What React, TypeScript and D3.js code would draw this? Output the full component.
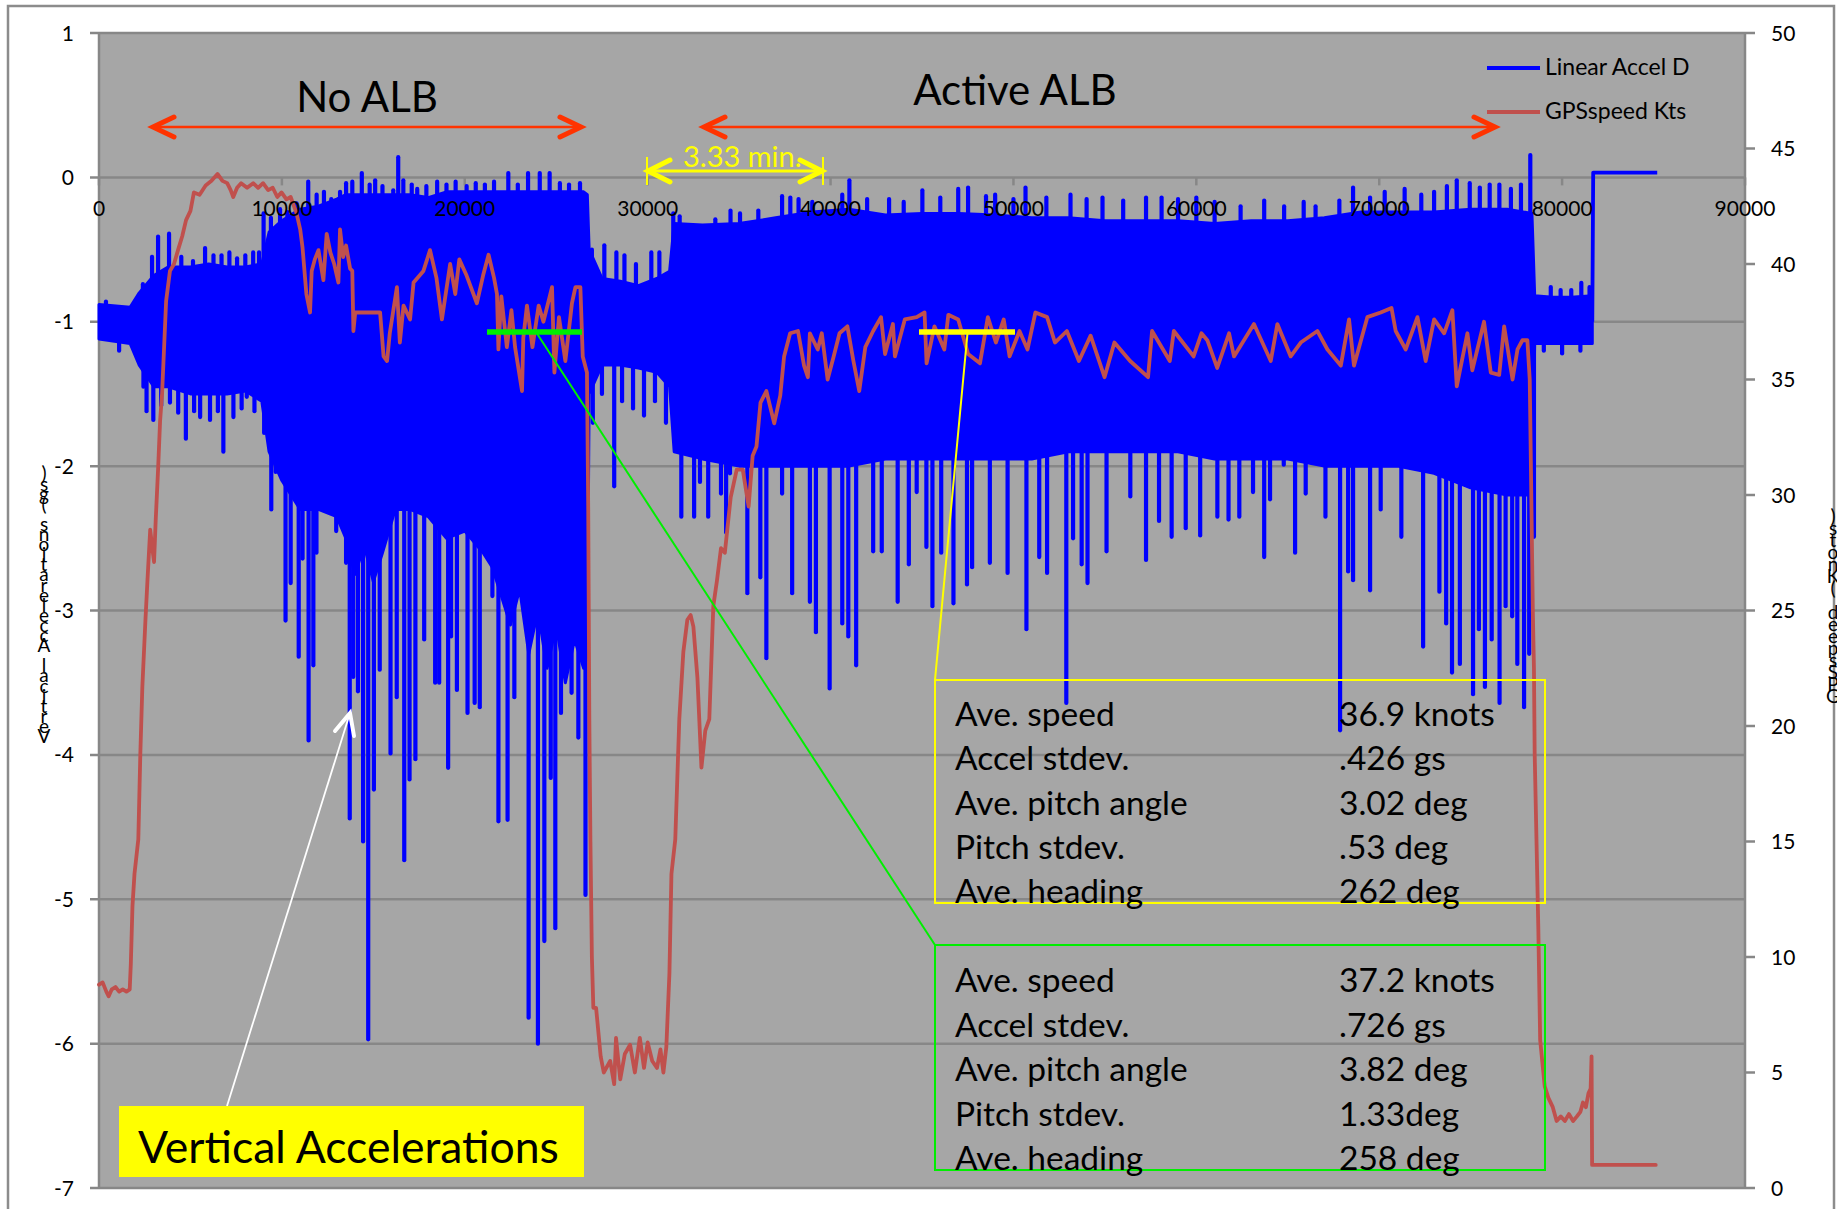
import React from "react";
import * as d3 from "d3";

// ---------- axis ticks ----------
const sampleTicks = [0, 10000, 20000, 30000, 40000, 50000, 60000, 70000, 80000, 90000];
const accelTicks = [1, 0, -1, -2, -3, -4, -5, -6, -7];
const speedTicks = [50, 45, 40, 35, 30, 25, 20, 15, 10, 5, 0];

// ---------- Linear Accel D (gs): dense band envelope ----------
const accelBandSamples = [0, 1700, 2200, 3000, 3800, 5000, 6000, 7000, 8000, 8900, 9300, 10000, 11000, 12000, 13000, 13500, 14000, 14500, 15000, 15500, 16200, 17000, 18000, 19000, 20000, 21000, 21500, 22000, 22500, 23000, 23500, 24000, 24500, 25000, 25500, 26000, 26500, 26700, 26800, 27500, 28500, 29500, 30500, 31200, 31450, 33000, 35000, 37000, 39000, 41000, 43000, 45000, 47000, 49000, 51000, 53000, 55000, 57000, 59000, 61000, 63000, 65000, 67000, 69000, 71000, 73000, 75000, 77000, 78350, 78500, 79500, 80500, 81650];
const accelBandTop = [-0.88, -0.9, -0.8, -0.68, -0.62, -0.62, -0.6, -0.62, -0.62, -0.6, -0.38, -0.3, -0.22, -0.2, -0.15, -0.12, -0.12, -0.12, -0.12, -0.12, -0.12, -0.12, -0.14, -0.1, -0.1, -0.1, -0.1, -0.1, -0.1, -0.1, -0.1, -0.1, -0.1, -0.1, -0.1, -0.1, -0.1, -0.12, -0.5, -0.7, -0.72, -0.75, -0.7, -0.65, -0.32, -0.33, -0.32, -0.28, -0.24, -0.22, -0.26, -0.25, -0.25, -0.26, -0.28, -0.28, -0.3, -0.3, -0.3, -0.32, -0.3, -0.3, -0.28, -0.24, -0.24, -0.24, -0.22, -0.22, -0.25, -0.82, -0.83, -0.83, -0.82];
const accelBandBottom = [-1.12, -1.15, -1.3, -1.45, -1.45, -1.5, -1.5, -1.5, -1.48, -1.55, -1.9, -2.1, -2.3, -2.3, -2.35, -2.5, -2.75, -2.55, -2.8, -2.6, -2.3, -2.3, -2.35, -2.5, -2.45, -2.6, -2.7, -2.9, -3.1, -2.85, -3.3, -3.0, -3.4, -3.1, -3.5, -3.2, -3.4, -3.3, -1.5, -1.3, -1.3, -1.32, -1.35, -1.45, -1.9, -1.95, -2.0, -2.0, -2.0, -2.0, -1.95, -1.95, -1.95, -1.95, -1.95, -1.9, -1.9, -1.9, -1.9, -1.95, -1.95, -1.95, -2.0, -2.0, -2.0, -2.05, -2.15, -2.2, -2.2, -1.15, -1.15, -1.15, -1.15];

// upward spikes [sample, gs]
const accelPeaks: [number, number][] = [
  [380, -0.86], [2400, -0.74], [2900, -0.55], [3230, -0.41], [3830, -0.39], [4500, -0.55], [5140, -0.58], [5800, -0.49],
  [6260, -0.54], [6700, -0.54], [7130, -0.52], [7550, -0.56], [8000, -0.54], [8430, -0.52], [8750, -0.52], [9000, -0.25],
  [9400, -0.28], [9900, -0.22], [10300, -0.24], [10800, -0.18], [11440, -0.03], [11900, -0.12], [12300, -0.1], [12700, -0.15],
  [13180, -0.1], [13510, -0.04], [13850, -0.03], [14370, 0.03], [14800, -0.05], [15100, -0.02], [15500, -0.06], [16090, -0.09],
  [16360, 0.14], [16640, -0.02], [17100, -0.05], [17400, -0.08], [17900, -0.06], [18490, -0.03], [19000, -0.05], [19500, -0.03],
  [20100, -0.06], [20600, -0.04], [21100, -0.05], [21600, -0.03], [22380, 0.03], [22900, -0.05], [23460, 0.03], [24100, 0.03],
  [24640, 0.03], [25200, -0.04], [25700, -0.05], [26300, -0.04], [26950, -0.5], [27630, -0.47], [28290, -0.52], [28730, -0.54],
  [29360, -0.6], [30200, -0.52], [30640, -0.52], [31400, -0.25], [31750, -0.27], [32900, -0.36], [33700, -0.29], [34530, -0.23],
  [35050, -0.25], [36050, -0.23], [37350, -0.13], [37800, -0.14], [38250, -0.15], [39000, -0.17], [40640, -0.12], [41030, -0.02],
  [42000, -0.15], [43200, -0.15], [44000, -0.17], [45020, -0.09], [46000, -0.14], [46980, -0.08], [47520, -0.07], [48500, -0.13],
  [49000, -0.12], [50000, -0.15], [50660, -0.07], [51800, -0.14], [53120, -0.12], [54000, -0.15], [54870, -0.14], [56000, -0.16],
  [57250, -0.14], [58100, -0.14], [59000, -0.15], [60000, -0.14], [61000, -0.17], [62420, -0.2], [63710, -0.16], [64800, -0.2],
  [65870, -0.17], [66520, -0.2], [67820, -0.16], [68570, -0.07], [69500, -0.14], [70300, -0.1], [71390, -0.08], [72300, -0.12],
  [73000, -0.1], [73700, -0.06], [74240, -0.02], [74950, -0.04], [75500, -0.07], [76040, -0.05], [76570, -0.05], [77200, -0.08],
  [77750, -0.05], [78260, 0.155], [79380, -0.76], [79920, -0.78], [80500, -0.78], [81050, -0.73], [81500, -0.76],
];

// downward spikes [sample, gs]
const accelDips: [number, number][] = [
  [1100, -1.2], [2430, -1.45], [2600, -1.62], [2970, -1.68], [3400, -1.58], [3880, -1.56], [4330, -1.63], [4750, -1.81],
  [5200, -1.62], [5530, -1.66], [6070, -1.68], [6500, -1.62], [6800, -1.9], [7350, -1.66], [7800, -1.6], [8080, -1.52],
  [8500, -1.62], [9030, -1.77], [9420, -2.3], [9660, -2.04], [10200, -3.07], [10480, -2.81], [10920, -3.32], [11130, -2.64],
  [11460, -3.9], [11720, -3.38], [11890, -2.6], [12540, -2.3], [12970, -2.45], [13510, -2.67], [13710, -4.44], [13900, -3.46],
  [14160, -3.56], [14440, -4.6], [14720, -5.97], [15030, -4.24], [15350, -3.41], [15940, -3.99], [16280, -3.6], [16690, -4.73],
  [16980, -4.17], [17300, -4.03], [17780, -3.2], [18380, -3.5], [18600, -3.5], [19090, -4.09], [19250, -3.18], [19570, -3.55],
  [20150, -3.71], [20540, -3.64], [20820, -3.67], [21510, -2.9], [21840, -4.46], [22340, -4.45], [22710, -3.6], [23490, -5.82],
  [24000, -6.0], [24350, -5.29], [24700, -4.16], [24950, -5.2], [25260, -3.71], [25840, -3.57], [26210, -3.88], [26600, -4.97],
  [27000, -1.7], [27500, -1.5], [28170, -2.14], [28600, -1.55], [29200, -1.6], [29800, -1.65], [30400, -1.55], [31000, -1.7],
  [31840, -2.35], [32540, -2.35], [32860, -2.11], [33310, -2.35], [34010, -2.19], [34290, -2.46], [34500, -2.05], [35450, -2.88],
  [36160, -2.77], [36490, -3.33], [37350, -2.19], [37900, -2.88], [38870, -2.94], [39200, -3.15], [39950, -3.54], [40640, -3.09],
  [40970, -3.18], [41400, -3.38], [42330, -2.59], [42800, -2.59], [43670, -2.94], [44280, -2.68], [44710, -2.18], [45240, -2.56],
  [45570, -2.97], [46050, -2.6], [46720, -2.95], [47460, -2.82], [47740, -2.7], [48710, -2.67], [49680, -2.74], [50710, -3.13],
  [51410, -2.63], [51840, -2.74], [52890, -3.64], [53260, -2.5], [53730, -2.68], [54050, -2.81], [55090, -2.59], [56390, -2.21],
  [57250, -2.65], [57960, -2.38], [58650, -2.49], [59420, -2.43], [60210, -2.48], [61150, -2.35], [61760, -2.37], [62350, -2.35],
  [63100, -2.18], [63710, -2.63], [64030, -2.23], [64780, -1.99], [65400, -2.6], [65980, -2.19], [67060, -2.35], [67860, -3.83],
  [68300, -2.73], [68570, -2.79], [69500, -2.86], [70080, -2.3], [71210, -2.49], [72400, -3.25], [73290, -2.87], [73660, -3.09],
  [73980, -3.43], [74410, -3.37], [75130, -3.58], [75450, -3.13], [75780, -3.53], [76150, -3.2], [76580, -3.64], [76910, -2.97],
  [77270, -3.04], [77550, -3.37], [77920, -3.67], [78200, -3.3], [78460, -2.49], [79000, -1.2], [80000, -1.22], [81000, -1.2],
];

// final segment of the accel trace after the run
const accelTail: [number, number][] = [[81650, -1.0], [81700, 0.033], [85200, 0.033]];

// ---------- GPSspeed Kts ----------
const gpsSpeed: [number, number][] = [
  [0, 8.8], [200, 8.9], [400, 8.5], [530, 8.3], [700, 8.6], [900, 8.7], [1100, 8.5], [1300, 8.6], [1500, 8.5], [1680, 8.6],
  [1740, 9.7], [1830, 12.2], [1940, 13.6], [2150, 15.1], [2260, 18.8], [2370, 21.7], [2540, 24.6], [2650, 26.3], [2800, 28.5],
  [2900, 27.8], [3010, 27.1], [3100, 28.9], [3230, 31.1], [3340, 33.2], [3450, 34.4], [3670, 38.4], [3880, 39.7], [4100, 40.0],
  [4320, 40.6], [4550, 41.2], [4760, 41.9], [5000, 42.3], [5190, 43.1], [5500, 43.0], [5830, 43.4], [6150, 43.6], [6480, 43.9],
  [6750, 43.6], [7010, 43.5], [7200, 43.2], [7340, 42.9], [7550, 43.3], [7770, 43.5], [8100, 43.3], [8430, 43.5], [8700, 43.3],
  [8970, 43.5], [9250, 43.2], [9500, 43.3], [9750, 42.9], [9980, 43.1], [10250, 42.8], [10480, 42.9], [10800, 42.2],
  [11000, 41.5], [11130, 40.7], [11340, 38.7], [11540, 37.9], [11630, 39.7], [11800, 40.2], [12000, 40.6], [12270, 39.3],
  [12450, 41.3], [12650, 40.5], [12860, 40.0], [13090, 39.2], [13180, 41.5], [13350, 40.3], [13510, 40.8], [13730, 39.8],
  [13850, 39.7], [13910, 37.1], [14010, 37.9], [15370, 37.9], [15560, 36.0], [15750, 35.8], [15900, 37.0], [16290, 39.0],
  [16450, 36.6], [16650, 38.2], [17010, 37.6], [17200, 39.2], [17740, 39.7], [18100, 40.6], [18450, 39.4], [18750, 37.6],
  [19200, 40.0], [19480, 38.7], [19700, 40.2], [20100, 39.5], [20660, 38.3], [21000, 39.5], [21300, 40.4], [21600, 39.4],
  [21760, 38.7], [21840, 36.3], [22000, 38.6], [22300, 36.4], [22550, 38.0], [22750, 36.4], [23130, 34.5], [23200, 36.8],
  [23400, 38.2], [23700, 36.4], [24040, 38.2], [24300, 37.5], [24770, 39.0], [24900, 35.3], [25150, 37.7], [25500, 35.8],
  [25860, 38.3], [26050, 39.0], [26320, 39.0], [26450, 36.0], [26680, 35.3], [26750, 29.4], [26810, 20.3], [26870, 15.0],
  [26950, 10.0], [27030, 7.8], [27180, 7.8], [27430, 5.7], [27600, 5.0], [27950, 5.5], [28170, 4.5], [28270, 6.5], [28500, 4.7],
  [28750, 5.8], [29040, 6.2], [29300, 5.0], [29570, 6.5], [29800, 5.2], [30000, 6.3], [30250, 5.5], [30510, 5.2], [30700, 6.0],
  [30860, 5.0], [31020, 6.1], [31190, 9.3], [31300, 13.6], [31510, 15.1], [31730, 20.3], [31950, 23.2], [32170, 24.6],
  [32350, 24.8], [32500, 24.3], [32720, 22.1], [32940, 18.2], [33150, 19.8], [33370, 20.3], [33590, 25.2], [33790, 26.3],
  [34010, 27.7], [34220, 27.5], [34540, 29.9], [34870, 31.1], [35200, 31.1], [35520, 29.5], [35740, 31.7], [35950, 32.1],
  [36170, 34.0], [36490, 34.5], [36920, 33.1], [37250, 34.3], [37460, 36.0], [37790, 37.0], [38220, 37.1], [38550, 35.6],
  [38760, 35.1], [38870, 37.0], [39300, 36.3], [39520, 37.0], [39840, 35.0], [40170, 36.0], [40490, 37.0], [40920, 37.3],
  [41250, 35.8], [41570, 34.5], [41900, 36.4], [42330, 37.1], [42760, 37.7], [42980, 36.1], [43410, 37.4], [43520, 36.0],
  [44060, 37.6], [44710, 37.7], [45140, 37.9], [45250, 35.7], [45680, 37.3], [46220, 36.3], [46440, 37.8], [46980, 37.6],
  [47520, 36.1], [48170, 35.7], [48600, 37.7], [49040, 36.6], [49470, 37.6], [49790, 36.0], [50330, 37.1], [50770, 36.3],
  [51200, 37.9], [51840, 37.7], [52270, 36.6], [52920, 37.1], [53580, 35.8], [54220, 36.9], [54980, 35.1], [55520, 36.6],
  [56380, 35.8], [57360, 35.1], [57580, 37.1], [58550, 35.8], [58770, 37.1], [59850, 36.0], [60280, 37.0], [60600, 36.7],
  [61140, 35.5], [61790, 37.0], [62060, 36.0], [63150, 37.4], [64070, 35.8], [64430, 37.4], [65160, 36.0], [65710, 36.6],
  [66620, 37.1], [67170, 36.3], [67900, 35.6], [68350, 37.6], [68620, 35.6], [69350, 37.7], [70080, 37.9], [70670, 38.1],
  [70900, 37.1], [71450, 36.3], [72090, 37.7], [72540, 35.8], [73000, 37.6], [73550, 37.0], [74000, 38.0], [74240, 34.7],
  [74820, 37.0], [75090, 35.4], [75730, 37.5], [76100, 35.3], [76560, 35.2], [76830, 37.3], [77290, 35.0], [77560, 36.3],
  [77830, 36.7], [78100, 36.7], [78230, 35.0], [78290, 31.5], [78400, 24.9], [78460, 22.5], [78500, 18.8], [78600, 15.0],
  [78700, 11.2], [78800, 6.4], [79050, 4.4], [79250, 3.9], [79490, 3.5], [79700, 2.9], [79930, 3.1], [80150, 2.9], [80370, 3.2],
  [80600, 2.9], [80810, 3.1], [81000, 3.3], [81140, 3.7], [81300, 3.5], [81440, 4.1], [81560, 4.3], [81610, 5.7], [81640, 1.0],
  [85120, 1.0],
];

// ---------- annotation text ----------
const statLabels = ["Ave. speed", "Accel stdev.", "Ave. pitch angle", "Pitch stdev.", "Ave. heading"];
const activeStats = ["36.9 knots", ".426 gs", "3.02 deg", ".53 deg", "262 deg"];
const noAlbStats = ["37.2 knots", ".726 gs", "3.82 deg", "1.33deg", "258 deg"];
const leftTitle = "Vertical Accelerations (gs)";
const rightTitle = "GPSspeed (Knots)";

const FONT = "Lato, 'Open Sans', sans-serif";
const BLUE = "#0000ff";
const RED = "#c0504d";
const GRID = "#878787";
const ORANGE = "#ff3300";

export default function App() {
  const x = d3.scaleLinear().domain([0, 90000]).range([99, 1745]);
  const yA = d3.scaleLinear().domain([-7, 1]).range([1188, 33]);
  const yS = d3.scaleLinear().domain([0, 50]).range([1188, 33]);

  const band = accelBandSamples.map((s, i) => ({ s, top: accelBandTop[i], bot: accelBandBottom[i] }));
  const bandArea = d3
    .area<{ s: number; top: number; bot: number }>()
    .x((d) => x(d.s))
    .y0((d) => yA(d.bot))
    .y1((d) => yA(d.top));
  const accelLine = d3.line<[number, number]>().x((d) => x(d[0])).y((d) => yA(d[1]));
  const speedLine = d3.line<[number, number]>().x((d) => x(d[0])).y((d) => yS(d[1]));

  const chevron = (tx: number, ty: number, dir: number, len: number, half: number) =>
    `M${tx + dir * len},${ty - half} L${tx},${ty} L${tx + dir * len},${ty + half}`;

  return (
    <svg width={1837} height={1209} style={{ position: "absolute", left: 0, top: 0 }} fontFamily={FONT}>
      <rect x={0} y={0} width={1837} height={1209} fill="#ffffff" />
      <rect x={8} y={6} width={1826} height={1220} fill="#ffffff" stroke="#8c8c8c" strokeWidth={2.5} />
      {/* plot area */}
      <rect x={x(0)} y={yA(1)} width={x(90000) - x(0)} height={yA(-7) - yA(1)} fill="#a6a6a6" />
      {accelTicks.map((t) => (
        <line key={"g" + t} x1={90} x2={x(90000)} y1={yA(t)} y2={yA(t)} stroke={GRID} strokeWidth={2.5} />
      ))}
      <line x1={x(0)} x2={x(0)} y1={yA(1)} y2={yA(-7)} stroke={GRID} strokeWidth={2.5} />
      <line x1={x(90000)} x2={x(90000)} y1={yA(1)} y2={yA(-7)} stroke={GRID} strokeWidth={2.5} />
      {speedTicks.map((t) => (
        <line key={"rt" + t} x1={x(90000)} x2={x(90000) + 10} y1={yS(t)} y2={yS(t)} stroke={GRID} strokeWidth={2.5} />
      ))}
      {sampleTicks.map((t) => (
        <line key={"xt" + t} x1={x(t)} x2={x(t)} y1={yA(0)} y2={yA(0) + 8} stroke={GRID} strokeWidth={2.5} />
      ))}

      {/* accel series */}
      <path d={bandArea(band) ?? ""} fill={BLUE} stroke={BLUE} strokeWidth={3} strokeLinejoin="round" />
      {accelDips.map(([s, v], i) => (
        <line key={"d" + i} x1={x(s)} x2={x(s)} y1={yA(-1)} y2={yA(v)} stroke={BLUE} strokeWidth={4.2} strokeLinecap="round" />
      ))}
      {accelPeaks.map(([s, v], i) => (
        <line key={"p" + i} x1={x(s)} x2={x(s)} y1={yA(-1)} y2={yA(v)} stroke={BLUE} strokeWidth={4.2} strokeLinecap="round" />
      ))}
      <path d={accelLine(accelTail) ?? ""} fill="none" stroke={BLUE} strokeWidth={3.8} strokeLinejoin="round" />

      {/* speed series */}
      <path d={speedLine(gpsSpeed) ?? ""} fill="none" stroke={RED} strokeWidth={3.8} strokeLinejoin="round" strokeLinecap="round" />

      {/* tick labels */}
      {accelTicks.map((t) => (
        <text key={"yl" + t} x={74} y={yA(t)} dy="0.36em" fontSize={21} textAnchor="end" fill="#000">
          {t}
        </text>
      ))}
      {speedTicks.map((t) => (
        <text key={"sl" + t} x={1771} y={yS(t)} dy="0.36em" fontSize={21} textAnchor="start" fill="#000">
          {t}
        </text>
      ))}
      {sampleTicks.map((t) => (
        <text key={"xl" + t} x={x(t)} y={216} fontSize={21} textAnchor="middle" fill="#000">
          {t}
        </text>
      ))}

      {/* stacked axis titles */}
      {leftTitle.split("").map((c, i) => (
        <text key={"lt" + i} x={44} y={743 - i * 10.1} fontSize={19} textAnchor="middle" fill="#000">
          {c}
        </text>
      ))}
      {rightTitle.split("").map((c, i) => (
        <text key={"rtt" + i} x={1833} y={703 - i * 12} fontSize={19} textAnchor="middle" fill="#000">
          {c}
        </text>
      ))}

      {/* legend */}
      <line x1={1487} x2={1540} y1={68} y2={68} stroke={BLUE} strokeWidth={4} />
      <text x={1545} y={75} fontSize={23} fill="#000">Linear Accel D</text>
      <line x1={1487} x2={1540} y1={112} y2={112} stroke={RED} strokeWidth={4} />
      <text x={1545} y={119} fontSize={23} fill="#000">GPSspeed Kts</text>

      {/* No ALB / Active ALB */}
      <text x={367} y={112} fontSize={42} textAnchor="middle" fill="#000">No ALB</text>
      <line x1={153} x2={581} y1={127} y2={127} stroke={ORANGE} strokeWidth={2.5} />
      <path d={chevron(153, 127, 1, 21, 10)} fill="none" stroke={ORANGE} strokeWidth={5} strokeLinecap="round" strokeLinejoin="miter" />
      <path d={chevron(581, 127, -1, 21, 10)} fill="none" stroke={ORANGE} strokeWidth={5} strokeLinecap="round" strokeLinejoin="miter" />
      <text x={1015} y={105} fontSize={42} textAnchor="middle" fill="#000">Active ALB</text>
      <line x1={704} x2={1495} y1={127} y2={127} stroke={ORANGE} strokeWidth={2.5} />
      <path d={chevron(704, 127, 1, 21, 10)} fill="none" stroke={ORANGE} strokeWidth={5} strokeLinecap="round" />
      <path d={chevron(1495, 127, -1, 21, 10)} fill="none" stroke={ORANGE} strokeWidth={5} strokeLinecap="round" />

      {/* 3.33 min */}
      <text x={683} y={167} fontSize={29} fill="#ffff00">3.33 min.</text>
      <line x1={647} x2={823} y1={171} y2={171} stroke="#ffff00" strokeWidth={3} />
      <line x1={647} x2={647} y1={157} y2={185} stroke="#ffff00" strokeWidth={2} />
      <line x1={823} x2={823} y1={157} y2={185} stroke="#ffff00" strokeWidth={2} />
      <path d={chevron(648, 171, 1, 22, 11)} fill="none" stroke="#ffff00" strokeWidth={5} strokeLinecap="round" />
      <path d={chevron(822, 171, -1, 22, 11)} fill="none" stroke="#ffff00" strokeWidth={5} strokeLinecap="round" />

      {/* average bars and callouts */}
      <line x1={536} x2={935} y1={332} y2={945} stroke="#00ee00" strokeWidth={2} />
      <line x1={487} x2={582} y1={332} y2={332} stroke="#00ee00" strokeWidth={5.5} />
      <line x1={967.6} x2={935} y1={332} y2={680} stroke="#ffff00" strokeWidth={2} />
      <line x1={919} x2={1015} y1={332} y2={332} stroke="#ffff00" strokeWidth={5.5} />

      <rect x={935} y={680} width={610} height={223} fill="none" stroke="#ffff00" strokeWidth={2} />
      {statLabels.map((l, i) => (
        <text key={"ya" + i} x={955} y={726 + i * 44.3} fontSize={33.5} fill="#000">{l}</text>
      ))}
      {activeStats.map((l, i) => (
        <text key={"yv" + i} x={1339} y={726 + i * 44.3} fontSize={33.5} fill="#000">{l}</text>
      ))}
      <rect x={935} y={945} width={610} height={225} fill="none" stroke="#00ee00" strokeWidth={2} />
      {statLabels.map((l, i) => (
        <text key={"ga" + i} x={955} y={992 + i * 44.5} fontSize={33.5} fill="#000">{l}</text>
      ))}
      {noAlbStats.map((l, i) => (
        <text key={"gv" + i} x={1339} y={992 + i * 44.5} fontSize={33.5} fill="#000">{l}</text>
      ))}

      {/* Vertical Accelerations callout */}
      <line x1={227} x2={350} y1={1106} y2={713} stroke="#ffffff" strokeWidth={1.8} />
      <path d={`M335,731 L350,713 L354,736`} fill="none" stroke="#ffffff" strokeWidth={4} strokeLinecap="round" />
      <rect x={119} y={1106} width={465} height={71} fill="#ffff00" />
      <text x={138} y={1163} fontSize={44.5} fill="#000">Vertical Accelerations</text>
    </svg>
  );
}
